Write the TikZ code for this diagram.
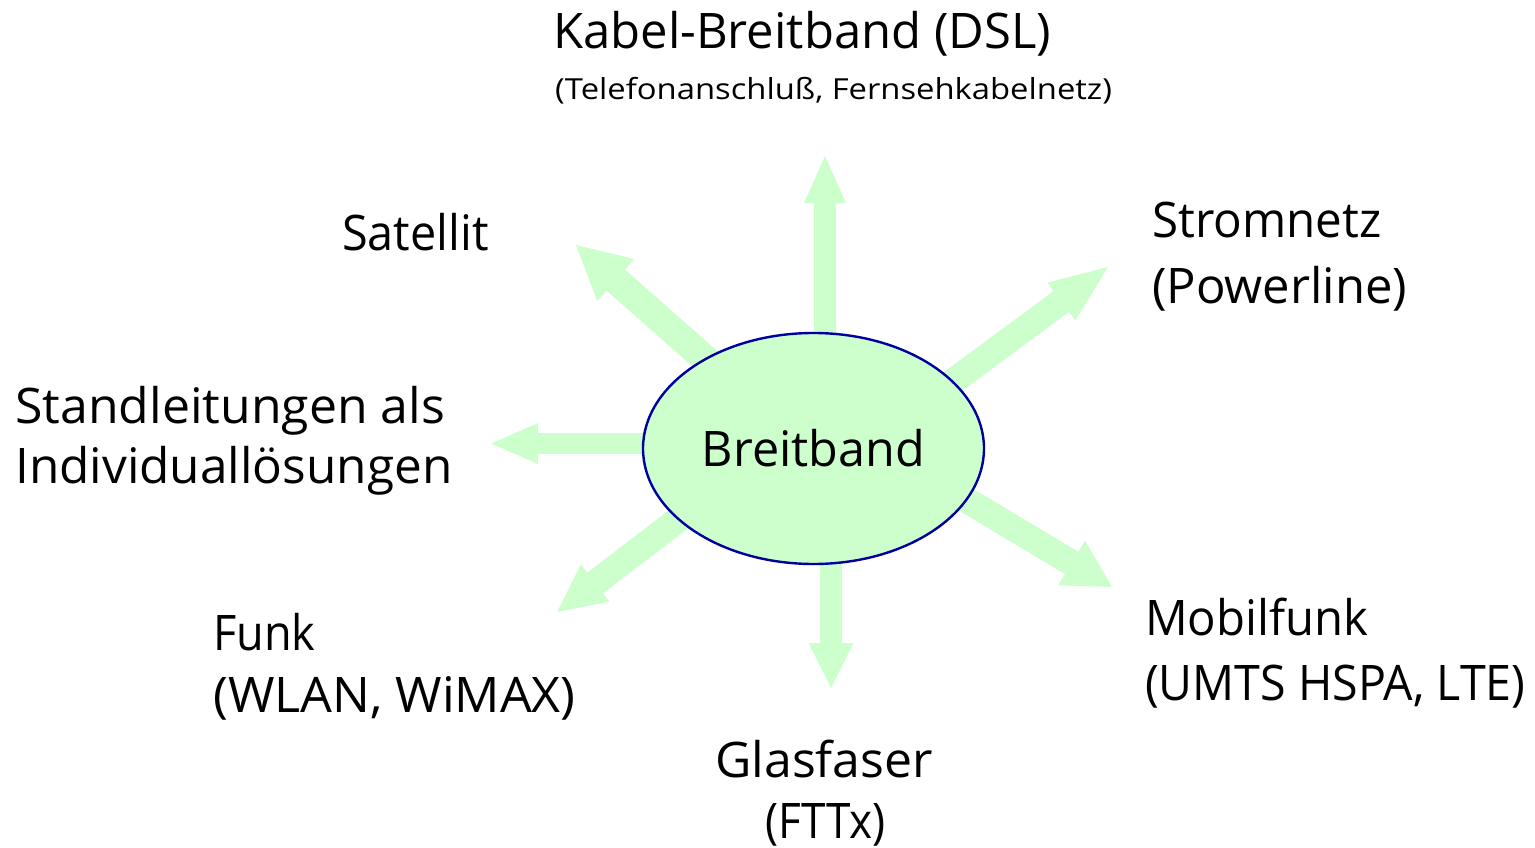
\documentclass[tikz,border=0pt]{standalone}
\usepackage{fontspec}
\setmainfont{Open Sans}
\usetikzlibrary{calc,shapes.geometric}
\definecolor{rayfill}{HTML}{CCFFCC}
\definecolor{rimblue}{HTML}{0000A0}
\tikzset{
  lbl/.style={anchor=base west, inner sep=0pt, font=\fontsize{49}{55}\selectfont},
  sublbl/.style={anchor=base west, inner sep=0pt, font=\fontsize{29}{33}\selectfont},
  hub/.style={ellipse, draw=rimblue, line width=2.4pt, fill=rayfill,
    minimum width=341pt, minimum height=231pt, inner sep=0pt,
    font=\fontsize{49}{55}\selectfont},
}
% horizontal width adjustment of a label
\newcommand\hfit[2]{\scalebox{#1}[1]{#2}}
% block arrow: #1 start, #2 tip, #3 shaft width, #4 head width, #5 head length
\newcommand\blockarrow[5]{%
  \coordinate (ba-h) at ($(#2)!#5!(#1)$);
  \fill[rayfill]
    ($(#1)!#3/2!90:(#2)$) -- ($(ba-h)!#3/2!90:(#2)$) -- ($(ba-h)!#4/2!90:(#2)$)
    -- (#2)
    -- ($(ba-h)!#4/2!-90:(#2)$) -- ($(ba-h)!#3/2!-90:(#2)$) -- ($(#1)!#3/2!-90:(#2)$)
    -- cycle;}
\begin{document}
\begin{tikzpicture}[x=1pt,y=-1pt]
\useasboundingbox (0,0) rectangle (1535,848);

% hub position
\coordinate (hubpos) at (813.5,448.5);

% arrow tips
\coordinate (t-kabel) at (825,156);
\coordinate (t-glas) at (831,688);
\coordinate (t-stand) at (491,443.5);
\coordinate (t-sat) at (576,245);
\coordinate (t-strom) at (1108,267);
\coordinate (t-mobil) at (1112,587);
\coordinate (t-funk) at (557,612);

% arrow tails (hidden under the hub)
\coordinate (s-kabel) at (hubpos -| t-kabel);
\coordinate (s-glas) at (hubpos -| t-glas);
\coordinate (s-stand) at (hubpos |- t-stand);
\coordinate (s-sat) at ($(hubpos)+(0,6)$);
\coordinate (s-strom) at ($(hubpos)+(0,36)$);
\coordinate (s-mobil) at ($(hubpos)+(0,-40)$);
\coordinate (s-funk) at ($(hubpos)+(0,-32)$);

\blockarrow{s-kabel}{t-kabel}{22pt}{42pt}{47pt}
\blockarrow{s-glas}{t-glas}{22pt}{45pt}{45pt}
\blockarrow{s-stand}{t-stand}{21pt}{41pt}{47pt}
\blockarrow{s-sat}{t-sat}{28pt}{56pt}{53pt}
\blockarrow{s-strom}{t-strom}{26pt}{47pt}{58pt}
\blockarrow{s-mobil}{t-mobil}{26pt}{52pt}{47pt}
\blockarrow{s-funk}{t-funk}{26pt}{47pt}{48pt}

\node[hub] (bb) at (hubpos) {\hfit{0.99}{Breitband}};

\node[lbl] (kabel) at (553,49) {Kabel-Breitband (DSL)};
\node[sublbl] (kabel2) at (555,100) {\hfit{1.13}{(Telefonanschluß, Fernsehkabelnetz)}};
\node[lbl] (sat) at (342,250) {\hfit{0.955}{Satellit}};
\node[lbl] (strom) at (1152,237) {\hfit{0.97}{Stromnetz}};
\node[lbl] (strom2) at (1152,303) {(Powerline)};
\node[lbl] (stand) at (15,423) {\hfit{1.02}{Standleitungen als}};
\node[lbl] (stand2) at (15,483) {\hfit{1.01}{Individuallösungen}};
\node[lbl] (funk) at (213,650) {\hfit{0.92}{Funk}};
\node[lbl] (funk2) at (213,712) {\hfit{1.025}{(WLAN, WiMAX)}};
\node[lbl] (mobil) at (1145,635) {\hfit{0.965}{Mobilfunk}};
\node[lbl] (mobil2) at (1145,700) {\hfit{0.95}{(UMTS HSPA, LTE)}};
\node[lbl] (glas) at (715,777) {\hfit{1.02}{Glasfaser}};
\node[lbl] (glas2) at (765,838) {\hfit{0.9}{(FTTx)}};
\end{tikzpicture}
\end{document}
